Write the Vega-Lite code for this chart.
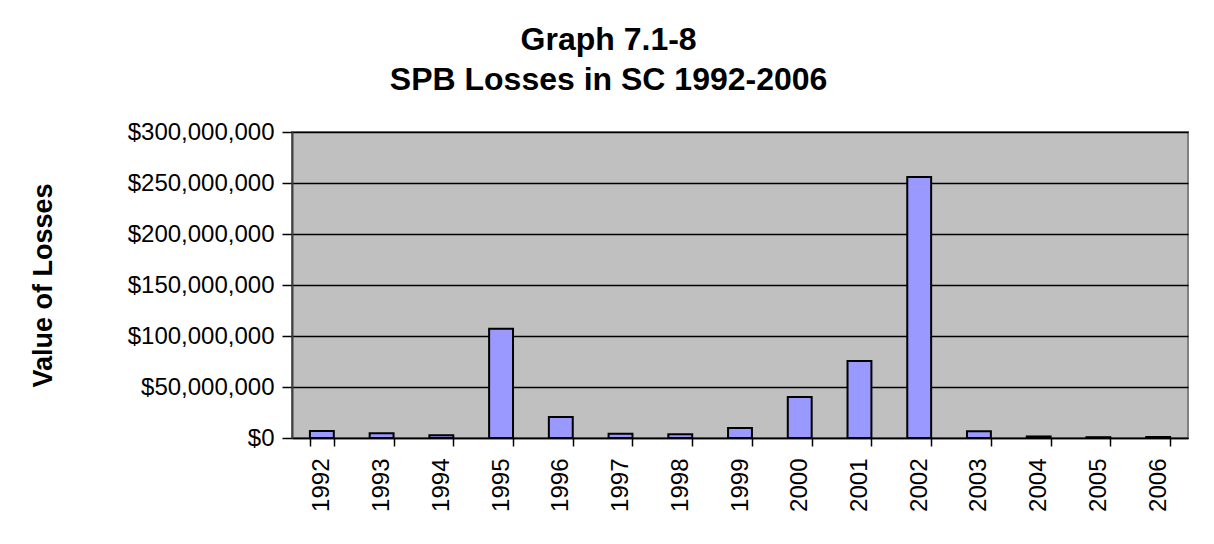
{
  "$schema": "https://vega.github.io/schema/vega-lite/v6.json",
  "width": 896,
  "height": 306,
  "autosize": {"type": "none"},
  "padding": {"left": 292, "top": 132, "right": 26, "bottom": 106},
  "background": "white",
  "title": {
    "text": ["Graph 7.1-8", "SPB Losses in SC 1992-2006"],
    "font": "Liberation Sans",
    "fontSize": 32,
    "fontWeight": "bold",
    "color": "black",
    "anchor": "middle",
    "frame": "bounds",
    "lineHeight": 40,
    "offset": 23
  },
  "config": {
    "view": {"fill": "#C0C0C0", "stroke": "#808080", "strokeWidth": 2},
    "font": "Liberation Sans"
  },
  "data": {
    "values": [
      {"year": "1992", "loss": 6900000},
      {"year": "1993", "loss": 4600000},
      {"year": "1994", "loss": 2600000},
      {"year": "1995", "loss": 107000000},
      {"year": "1996", "loss": 20600000},
      {"year": "1997", "loss": 4200000},
      {"year": "1998", "loss": 3600000},
      {"year": "1999", "loss": 9800000},
      {"year": "2000", "loss": 40300000},
      {"year": "2001", "loss": 75500000},
      {"year": "2002", "loss": 256000000},
      {"year": "2003", "loss": 6500000},
      {"year": "2004", "loss": 1500000},
      {"year": "2005", "loss": 800000},
      {"year": "2006", "loss": 1000000}
    ]
  },
  "mark": {"type": "bar", "fill": "#9999FF", "stroke": "black", "strokeWidth": 2},
  "encoding": {
    "x": {
      "field": "year",
      "type": "ordinal",
      "scale": {"paddingInner": 0.6, "paddingOuter": 0.3},
      "axis": {
        "title": null,
        "labelAngle": -90,
        "labelFont": "Liberation Sans",
        "labelFontSize": 24,
        "labelColor": "black",
        "labelPadding": 12,
        "labelBaseline": "middle",
        "labelAlign": "right",
        "tickBand": "extent",
        "tickColor": "black",
        "tickSize": 8,
        "tickWidth": 1.5,
        "domainColor": "black",
        "domainWidth": 1.5
      }
    },
    "y": {
      "field": "loss",
      "type": "quantitative",
      "scale": {"domain": [0, 300000000], "nice": false},
      "axis": {
        "title": "Value of Losses",
        "titleFont": "Liberation Sans",
        "titleFontSize": 27,
        "titleFontWeight": "bold",
        "titleColor": "black",
        "titlePadding": 70,
        "values": [0, 50000000, 100000000, 150000000, 200000000, 250000000, 300000000],
        "labelExpr": "'$' + format(datum.value, ',')",
        "labelFont": "Liberation Sans",
        "labelFontSize": 24,
        "labelColor": "black",
        "labelPadding": 8,
        "tickColor": "black",
        "tickSize": 10,
        "tickWidth": 1.5,
        "domainColor": "#404040",
        "domainWidth": 2,
        "grid": true,
        "gridColor": "black",
        "gridWidth": 1.5,
        "gridOpacity": 1
      }
    }
  }
}
